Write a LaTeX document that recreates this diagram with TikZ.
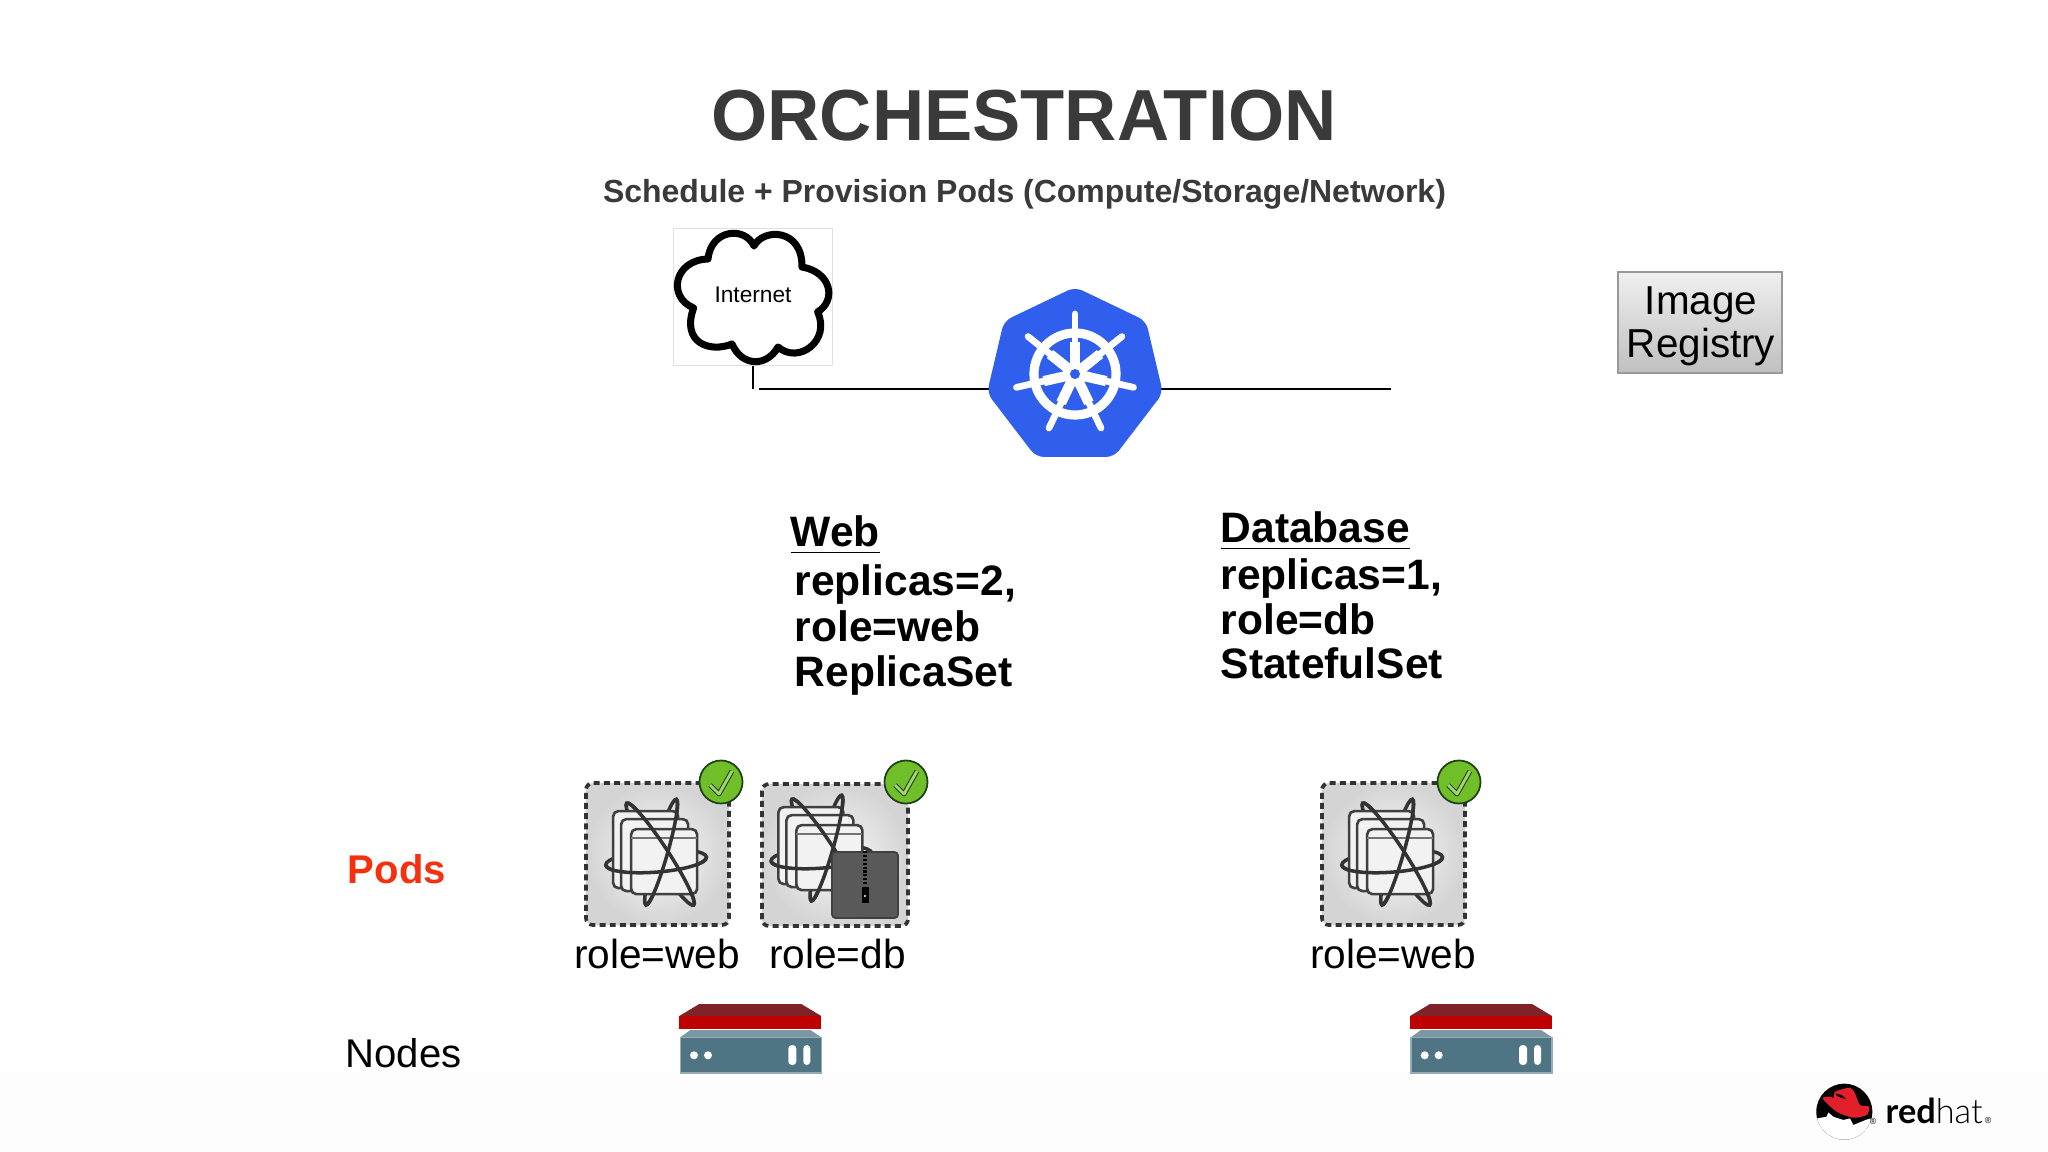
\documentclass[tikz,border=0pt]{standalone}
\usepackage{fontspec}
\setmainfont{Liberation Sans}
\newfontfamily\hatlight{Lato Light}
\newfontfamily\hatbold{Lato}
\usetikzlibrary{calc}

\definecolor{titlegray}{HTML}{3A3A3A}
\definecolor{kubeblue}{HTML}{2F5FEC}
\definecolor{podred}{HTML}{F5300F}
\definecolor{okgreen}{HTML}{71BF28}
\definecolor{okdark}{HTML}{20401A}
\definecolor{serverteal}{HTML}{4F7484}
\definecolor{servertop}{HTML}{7F2329}
\definecolor{serverred}{HTML}{BE0000}
\definecolor{hatred}{HTML}{E2202C}
\definecolor{lowband}{HTML}{FDFDFE}

\tikzset{
  plaintext/.style={inner sep=0pt,anchor=base},
  podbox/.style={draw=black!80,line width=1.05pt,dash pattern=on 1.7pt off 1.2pt,
    inner color=gray!5,outer color=gray!34,rounded corners=2pt,inner sep=0pt,
    minimum height=1.42cm},
  okdot/.style={circle,draw=okdark,line width=0.5pt,fill=okgreen,minimum size=0.43cm,inner sep=0pt},
  orbit/.style={draw=black!80,line width=1pt},
  pics/podicon/.style={code={
    \draw[orbit] (76,73) ellipse [x radius=0.61cm,y radius=0.08cm,rotate=-56.7];
    \draw[orbit] (77,71) ellipse [x radius=0.55cm,y radius=0.065cm,rotate=74];
    \draw[orbit] (72,80) ellipse [x radius=0.505cm,y radius=0.11cm,rotate=4.5];
    \foreach \xa/\ya/\xb/\yb in {29/30/94/107,37/38/104/110,47/48/113/113}
      \draw[draw=black!75,line width=0.75pt,fill=gray!10,rounded corners=1.5pt] (\xa,\ya) rectangle (\xb,\yb);
    \draw[black!55,line width=0.7pt] (47,57) -- (113,57);
    \draw[orbit,shift={(76,73)},rotate=-56.7] (0.61cm,0) arc [start angle=0,end angle=180,x radius=0.61cm,y radius=0.08cm];
    \draw[orbit,shift={(77,71)},rotate=74] (0.55cm,0) arc [start angle=0,end angle=-180,x radius=0.55cm,y radius=0.065cm];
    \draw[orbit,shift={(72,80)},rotate=4.5] (0.505cm,0) arc [start angle=0,end angle=-180,x radius=0.505cm,y radius=0.11cm];
  }},
  pics/okmark/.style={code={
    \draw[draw=okdark,double=okgreen!65!white,line width=0.3pt,double distance=0.8pt,line join=round]
      (-11,3) -- (-2,12) -- (11,-11);
  }},
  pics/server/.style={code={
    \fill[servertop] (0,12) -- (20,0) -- (122,0) -- (142,12) -- cycle;
    \fill[serverred] (0,12) rectangle (142,25.3);
    \fill[serverteal!75!white] (1,33.3) -- (11,26) -- (131,26) -- (142,33.3) -- cycle;
    \draw[fill=serverteal,draw=serverteal!60!white,line width=0.3pt] (1,33.3) rectangle (142,69);
    \fill[white] (14.7,51.3) circle [radius=0.04cm] (28.7,51.3) circle [radius=0.04cm];
    \fill[white,rounded corners=1pt] (109,41) rectangle (117,61) (124,41) rectangle (131,61);
  }},
}

\begin{document}
\begin{tikzpicture}[x=0.01cm,y=-0.01cm]
\useasboundingbox (0,0) rectangle (2048,1152);
\fill[lowband] (0,1072) rectangle (2048,1152);

% heading
\node[plaintext,text=titlegray,font=\fontsize{20.56}{24}\selectfont\bfseries] (title) at (1024,141) {ORCHESTRATION};
\node[plaintext,text=titlegray,font=\fontsize{9.09}{12}\selectfont\bfseries] (subtitle) at (1024.5,202.5) {Schedule + Provision Pods (Compute/Storage/Network)};

% internet
\node[draw=black!12,line width=0.3pt,minimum width=1.595cm,minimum height=1.37cm,inner sep=0pt] (inetbox) at (753,297) {};
\draw[black,line width=2pt,fill=white,line join=round]
  (708,259) .. controls (711,229) and (745,226) .. (754,246)
  .. controls (763,228) and (802.5,228) .. (802,267)
  .. controls (831,272) and (837,300) .. (817.6,312)
  .. controls (831,340) and (799,365) .. (778,347)
  .. controls (767,367) and (742,367) .. (732,344)
  .. controls (710,353) and (681,343) .. (693.6,308)
  .. controls (667,297) and (674,260) .. (708,259) -- cycle;
\node[inner sep=0pt,font=\fontsize{6.45}{8}\selectfont] (inettext) at (753,294.5) {Internet};

% network line
\coordinate (inetdrop) at (753,389);
\coordinate (busleft) at (759,389);
\coordinate (busright) at (1391,389);
\draw[line width=0.55pt] (inetbox.south) -- (inetdrop);
\draw[line width=0.55pt] (busleft) -- (busright);

% master
\coordinate (kube) at (1075,374);
\fill[kubeblue,rounded corners=0.08cm] (1075,287) -- (1146,321) -- (1163,393) -- (1114,457) -- (1036,457) -- (987,393) -- (1004,321) -- cycle;
\draw[white,line width=2.6pt] (kube) circle [radius=0.41cm];
\foreach \a in {90,141.43,192.86,244.29,295.71,347.14,398.57} {
  \draw[white,line width=1.9pt,line cap=round] (kube) -- ++({\a}:0.6cm);
  \draw[white,line width=2.9pt] (kube) -- ++({\a}:0.32cm);
}
\fill[white] (kube) circle [radius=0.12cm];
\fill[kubeblue] (kube) circle [radius=0.05cm];

% registry
\node[draw=gray!80,line width=0.4pt,top color=gray!12,bottom color=gray!50,minimum width=1.64cm,minimum height=1.01cm,inner sep=0pt] (registry) at (1700,322.5) {};
\node[plaintext,font=\fontsize{11.5}{13}\selectfont] (imagetext) at (1701,315) {Image};
\node[plaintext,font=\fontsize{11.5}{13}\selectfont] (registrytext) at (1701,358) {Registry};

% web column
\node[plaintext,anchor=base west,font=\fontsize{12.1}{14}\selectfont\bfseries] (webhead) at (790,547) {\underline{Web}};
\node[plaintext,anchor=base west,font=\fontsize{12.1}{14}\selectfont\bfseries] (webone) at (794,596) {replicas=2,};
\node[plaintext,anchor=base west,font=\fontsize{12.1}{14}\selectfont\bfseries] (webtwo) at (794,641) {role=web};
\node[plaintext,anchor=base west,font=\fontsize{12.1}{14}\selectfont\bfseries] (webthree) at (794,686) {ReplicaSet};

% database column
\node[plaintext,anchor=base west,font=\fontsize{12.1}{14}\selectfont\bfseries] (dbhead) at (1220,543) {\underline{Database}};
\node[plaintext,anchor=base west,font=\fontsize{12.1}{14}\selectfont\bfseries] (dbone) at (1220,590) {replicas=1,};
\node[plaintext,anchor=base west,font=\fontsize{12.1}{14}\selectfont\bfseries] (dbtwo) at (1220,634) {role=db};
\node[plaintext,anchor=base west,font=\fontsize{12.1}{14}\selectfont\bfseries] (dbthree) at (1220,679) {StatefulSet};

% row labels
\node[plaintext,text=podred,font=\fontsize{11.4}{14}\selectfont\bfseries] (podslabel) at (397,883) {Pods};
\node[plaintext,font=\fontsize{11.4}{14}\selectfont] (nodeslabel) at (403.5,1067) {Nodes};

% pods
\node[podbox,minimum width=1.43cm] (podA) at (657.5,854) {};
\node[podbox,minimum width=1.46cm] (podB) at (835,855) {};
\node[podbox,minimum width=1.43cm] (podC) at (1393.5,854) {};
\pic at (podA.north west) {podicon};
\pic at ($(podB.north west)+(-10.7,-5)$) {podicon};
\pic at (podC.north west) {podicon};

% storage on the db pod
\node[draw=black!75,line width=0.5pt,fill=black!65,rounded corners=1pt,minimum size=0.66cm,inner sep=0pt] (volume) at (865,885) {};
\draw[black,line width=1pt,dash pattern=on 0.6pt off 0.5pt] (volume.north) -- ++(0,34);
\node[fill=black,minimum width=0.07cm,minimum height=0.165cm,inner sep=0pt] (zip) at (865,895) {};
\fill[white] (zip) ++(0,1) circle [radius=0.012cm];

\node[okdot] (okA) at (721,782) {};
\node[okdot] (okB) at (906,782) {};
\node[okdot] (okC) at (1459,782) {};
\pic at (okA) {okmark};
\pic at (okB) {okmark};
\pic at (okC) {okmark};

\node[plaintext,font=\fontsize{11.55}{14}\selectfont] (roleA) at (657,968) {role=web};
\node[plaintext,font=\fontsize{11.55}{14}\selectfont] (roleB) at (837.5,968) {role=db};
\node[plaintext,font=\fontsize{11.55}{14}\selectfont] (roleC) at (1393,968) {role=web};

% servers
\pic at (679.3,1004) {server};
\pic at (1410,1004) {server};

% logo
\coordinate (hat) at (1844.3,1111.7);
\begin{scope}[shift={(hat)}]
  \fill[white] (0,0) circle [radius=0.28cm];
  \begin{scope}
    \clip (0,0) circle [radius=0.28cm];
    \fill[black] (-30,-30) rectangle (30,30);
    \fill[white] (-29,7) -- (-17.7,5) -- (-16,0.7) -- (-11,5) -- (-1,8.3) -- (5.7,6.7) -- (9,13.3) -- (22,8) -- (29,6) -- (30,32) -- (-30,32) -- cycle;
  \end{scope}
  \fill[hatred] plot[smooth cycle,tension=0.45] coordinates {(-9.3,-20) (5.7,-24) (10.7,-18.3) (15.7,-6.7) (25,-5) (22.3,3.3) (9,6) (-7.7,0) (-21.7,-13.3) (-14.3,-15) (-10.3,-14)};
  \fill[black] (-9.3,-18.3) -- (-2.7,-16.7) -- (1.7,-12.7) -- (-6,-15) -- cycle;
\end{scope}
\node[plaintext,font=\fontsize{2.5}{3}\selectfont] (hatmark) at (1873,1124) {®};
\node[plaintext,anchor=base west,font=\fontsize{9.75}{12}\selectfont] (hatname) at (1885,1123) {{\hatbold\bfseries red}{\hatlight hat}};
\node[plaintext,font=\fontsize{2.5}{3}\selectfont] (hatmarkb) at (1988,1123.5) {®};
\end{tikzpicture}
\end{document}
